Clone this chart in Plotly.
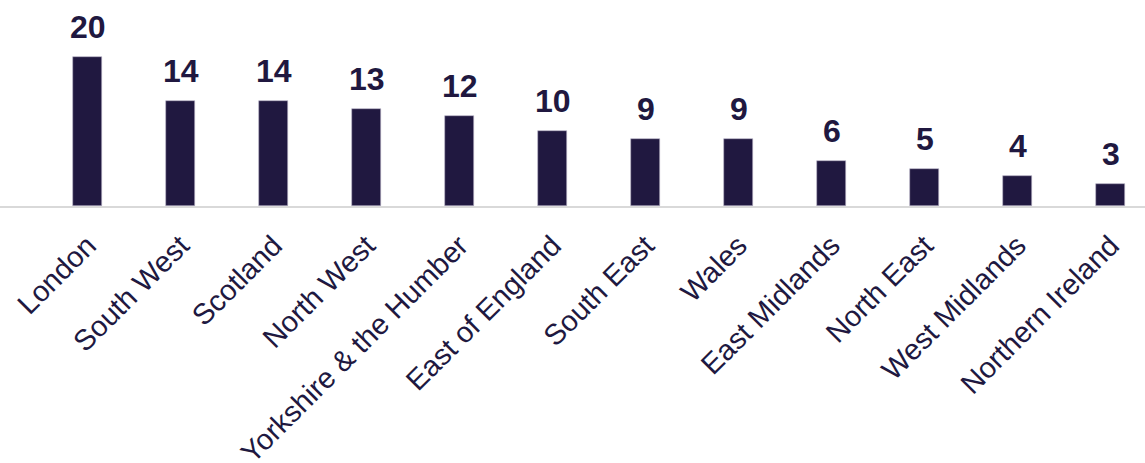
import plotly.graph_objects as go

# Regions, sorted from highest to lowest value
regions = [
    "London", "South West", "Scotland", "North West", "Yorkshire & the Humber",
    "East of England", "South East", "Wales", "East Midlands", "North East",
    "West Midlands", "Northern Ireland",
]
values = [20, 14, 14, 13, 12, 10, 9, 9, 6, 5, 4, 3]

NAVY = "#201840"
FONT = "Liberation Sans, Arial, sans-serif"

fig = go.Figure()
fig.add_trace(go.Bar(
    x=regions,
    y=values,
    width=0.312,
    marker=dict(color=NAVY, line=dict(color="#b8b4c8", width=0.6)),
    hoverinfo="x+y",
))

# Value labels above each bar
for r, v in zip(regions, values):
    fig.add_annotation(
        x=r, y=v, text=f"<b>{v}</b>", showarrow=False,
        yanchor="bottom", yshift=10,
        font=dict(family=FONT, size=32, color=NAVY),
    )

fig.update_layout(
    width=1145, height=463,
    margin=dict(l=0, r=0, t=5, b=257, autoexpand=False),
    paper_bgcolor="white", plot_bgcolor="white",
    showlegend=False,
    bargap=0,
    xaxis=dict(
        range=[-0.5 - 41.2 / 93, 11.37],
        tickangle=-45,
        tickfont=dict(family=FONT, size=29, color=NAVY),
        showline=True, linecolor="#d9d9d9", linewidth=2,
        ticks="", ticklabelstandoff=9,
        showgrid=False, zeroline=False,
        automargin=False,
    ),
    yaxis=dict(
        range=[0, 26.9],
        visible=False, showgrid=False, zeroline=False,
        automargin=False,
    ),
)

fig.write_html("out.html")
